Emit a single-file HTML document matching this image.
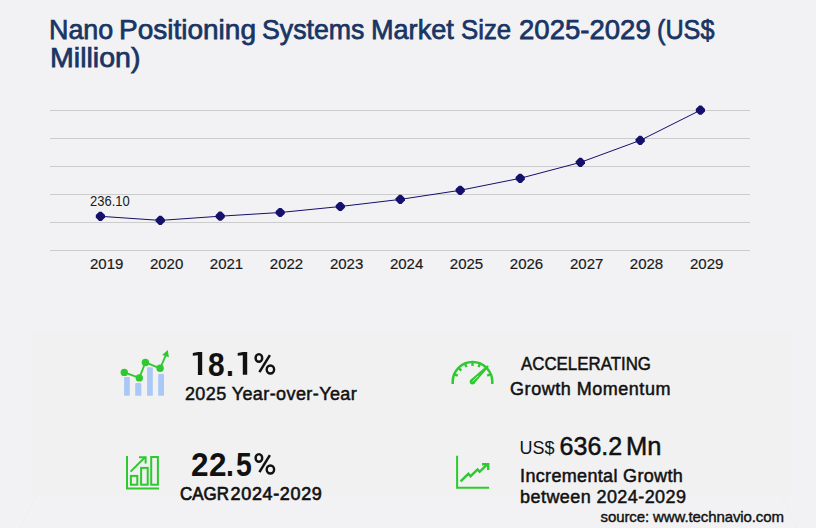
<!DOCTYPE html>
<html><head><meta charset="utf-8">
<style>
html,body{margin:0;padding:0;}
body{width:816px;height:528px;overflow:hidden;background:#f2f2f5;position:relative;font-family:"Liberation Sans",sans-serif;}
.a{position:absolute;white-space:nowrap;line-height:1;}
#panel{position:absolute;left:31px;top:330px;width:761px;height:166px;background:#f1f1f1;}
.t{font-size:28px;color:#193564;-webkit-text-stroke:0.75px #193564;transform-origin:0 0;}
.yr{font-size:15px;color:#1a1a1a;-webkit-text-stroke:0.2px #1a1a1a;width:60px;text-align:center;top:256px;}
.g{font-size:33px;font-weight:bold;color:#111;transform-origin:0 0;}
.lbl{font-size:18px;color:#111;-webkit-text-stroke:0.5px #111;transform-origin:0 0;}
</style></head><body>
<div id="panel"></div>
<svg width="816" height="528" style="position:absolute;left:0;top:0"><g stroke="#e2ebee" stroke-width="0.8" stroke-dasharray="1 1.2"><line x1="35.5" y1="496" x2="20" y2="528"/><line x1="782" y1="497" x2="797" y2="528"/></g></svg>

<div class="a t" style="left:49px;top:16px;transform:scaleX(0.96)">Nano</div>
<div class="a t" style="left:119px;top:16px">Positioning</div>
<div class="a t" style="left:262.1px;top:16px;transform:scaleX(0.954)">Systems</div>
<div class="a t" style="left:370.9px;top:16px;transform:scaleX(0.967)">Market</div>
<div class="a t" style="left:461.2px;top:16px;transform:scaleX(0.92)">Size</div>
<div class="a t" style="left:519px;top:16px;transform:scaleX(0.984)">2025-2029</div>
<div class="a t" style="left:657.1px;top:16px;transform:scaleX(0.90)">(US$</div>
<div class="a t" style="left:49.7px;top:44px;transform:scaleX(1.02)">Million)</div>

<svg width="816" height="528" style="position:absolute;left:0;top:0">
  <g stroke="#cccccc" stroke-width="1">
    <line x1="50" y1="110.5" x2="750" y2="110.5"/>
    <line x1="50" y1="138.5" x2="750" y2="138.5"/>
    <line x1="50" y1="166.5" x2="750" y2="166.5"/>
    <line x1="50" y1="194.5" x2="750" y2="194.5"/>
    <line x1="50" y1="222.5" x2="750" y2="222.5"/>
    <line x1="50" y1="250.5" x2="750" y2="250.5"/>
  </g>
  <polyline fill="none" stroke="#14106b" stroke-width="1" points="100.4,216.3 160.3,220.4 220.2,216.2 280.2,212.5 340.3,206.5 400.3,199.4 460.2,190.3 520.2,178.3 580.4,162.4 640.2,140.4 700.4,110.2"/>
  <g fill="#14106b">
    <path d="M99.20 211.70 L101.60 211.70 L105.00 215.10 L105.00 217.50 L101.60 220.90 L99.20 220.90 L95.80 217.50 L95.80 215.10z"/>
    <path d="M159.10 215.80 L161.50 215.80 L164.90 219.20 L164.90 221.60 L161.50 225.00 L159.10 225.00 L155.70 221.60 L155.70 219.20z"/>
    <path d="M219.00 211.60 L221.40 211.60 L224.80 215.00 L224.80 217.40 L221.40 220.80 L219.00 220.80 L215.60 217.40 L215.60 215.00z"/>
    <path d="M279.00 207.90 L281.40 207.90 L284.80 211.30 L284.80 213.70 L281.40 217.10 L279.00 217.10 L275.60 213.70 L275.60 211.30z"/>
    <path d="M339.10 201.90 L341.50 201.90 L344.90 205.30 L344.90 207.70 L341.50 211.10 L339.10 211.10 L335.70 207.70 L335.70 205.30z"/>
    <path d="M399.10 194.80 L401.50 194.80 L404.90 198.20 L404.90 200.60 L401.50 204.00 L399.10 204.00 L395.70 200.60 L395.70 198.20z"/>
    <path d="M459.00 185.70 L461.40 185.70 L464.80 189.10 L464.80 191.50 L461.40 194.90 L459.00 194.90 L455.60 191.50 L455.60 189.10z"/>
    <path d="M519.00 173.70 L521.40 173.70 L524.80 177.10 L524.80 179.50 L521.40 182.90 L519.00 182.90 L515.60 179.50 L515.60 177.10z"/>
    <path d="M579.20 157.80 L581.60 157.80 L585.00 161.20 L585.00 163.60 L581.60 167.00 L579.20 167.00 L575.80 163.60 L575.80 161.20z"/>
    <path d="M639.00 135.80 L641.40 135.80 L644.80 139.20 L644.80 141.60 L641.40 145.00 L639.00 145.00 L635.60 141.60 L635.60 139.20z"/>
    <path d="M699.20 105.60 L701.60 105.60 L705.00 109.00 L705.00 111.40 L701.60 114.80 L699.20 114.80 L695.80 111.40 L695.80 109.00z"/>
  </g>
  <!-- YoY icon -->
  <g fill="#a9c8f5">
    <path d="M124.1 395.8 V377.9 q0 -1 1 -1 h3.7 q1 0 1 1 V395.8z"/>
    <path d="M135.2 395.8 V384 q0 -1 1 -1 h4.1 q1 0 1 1 V395.8z"/>
    <path d="M147.1 395.8 V368.3 q0 -1 1 -1 h3.7 q1 0 1 1 V395.8z"/>
    <path d="M158.2 395.8 V375.1 q0 -1 1 -1 h3.8 q1 0 1 1 V395.8z"/>
  </g>
  <g stroke="#2ec92e" stroke-width="1.8" fill="none" stroke-linejoin="round">
    <polyline points="124.3,372.4 139.3,377.9 145.4,362.4 160.1,368.3 166.1,354.7"/>
  </g>
  <g fill="#2ec92e">
    <circle cx="124.3" cy="372.4" r="3.7"/>
    <circle cx="139.3" cy="377.9" r="3.7"/>
    <circle cx="145.4" cy="362.4" r="3.7"/>
    <circle cx="160.1" cy="368.3" r="3.7"/>
    <path d="M167.8 350.1 L162.2 355 L168.9 357.3z"/>
  </g>
  <!-- gauge icon -->
  <g stroke="#2ec92e" fill="none" stroke-width="2.5">
    <path d="M452.7 384 V381.8 A19.8 19.8 0 0 1 492.3 381.8 V384"/>
  </g>
  <g stroke="#2ec92e" stroke-width="2.4" stroke-linecap="butt">
    <line x1="454.76" y1="374.45" x2="457.81" y2="375.72"/>
    <line x1="458.92" y1="368.22" x2="461.26" y2="370.56"/>
    <line x1="465.15" y1="364.06" x2="466.42" y2="367.11"/>
    <line x1="472.50" y1="362.60" x2="472.50" y2="365.90"/>
    <line x1="479.85" y1="364.06" x2="478.58" y2="367.11"/>
    <line x1="490.24" y1="374.45" x2="487.19" y2="375.72"/>
  </g>
  <g fill="#2ec92e">
    <circle cx="472.4" cy="381.7" r="2.7"/>
    <polygon points="474.31,383.61 488.88,366.78 487.32,365.22 470.49,379.79"/>
  </g>
  <line x1="472.97" y1="381.13" x2="478.06" y2="376.04" stroke="#f1f1f1" stroke-width="0.9" stroke-linecap="round"/>
  <!-- CAGR icon -->
  <g stroke="#2ec92e" fill="none" stroke-width="2">
    <path d="M127 456 V488.6 H159"/>
    <rect x="130.9" y="475.9" width="6.4" height="8.8"/>
    <rect x="141.1" y="467.9" width="6.6" height="16.8"/>
    <rect x="151.2" y="457" width="6.7" height="27.7"/>
    <path d="M130.6 471.6 L145 457.2"/>
    <path d="M139 457.2 H145.6 V463.6" stroke-linejoin="miter"/>
  </g>
  <!-- incremental icon -->
  <g stroke="#2ec92e" fill="none" stroke-width="2">
    <path d="M457.1 455.8 V487.8 H489.1"/>
  </g>
  <g stroke="#2ec92e" fill="none" stroke-width="2.4" stroke-linejoin="miter">
    <polyline points="460.6,481.4 468.4,473.8 470.6,476.2 477.6,469.4 479.6,471.8 487.2,464.4"/>
    <path d="M482 464.2 H488.2 V470"/>
  </g>
</svg>

<div class="a" style="left:89.7px;top:194px;font-size:14px;color:#1a1a1a;transform-origin:0 0;transform:scaleX(0.927)">236.10</div>
<div class="a yr" style="left:76.7px">2019</div>
<div class="a yr" style="left:136.6px">2020</div>
<div class="a yr" style="left:196.5px">2021</div>
<div class="a yr" style="left:256.5px">2022</div>
<div class="a yr" style="left:316.6px">2023</div>
<div class="a yr" style="left:376.6px">2024</div>
<div class="a yr" style="left:436.5px">2025</div>
<div class="a yr" style="left:496.5px">2026</div>
<div class="a yr" style="left:556.7px">2027</div>
<div class="a yr" style="left:616.5px">2028</div>
<div class="a yr" style="left:676.7px">2029</div>

<div class="a g" style="left:208.4px;top:347.5px;transform:scaleX(0.906)">8</div>
<div class="a g" style="left:226.3px;top:347.5px;transform:scaleX(0.86)">.</div>
<svg width="816" height="528" style="position:absolute;left:0;top:0"><g fill="#111"><path d="M192.8 353.1 L198 352.1 L202.2 352.1 L202.2 375 L197.9 375 L197.9 355.2 L192.8 355.8 Z"/><path d="M237.7 353.1 L242.9 351.9 L247.2 351.9 L247.2 374.8 L242.8 374.8 L242.8 355.2 L237.7 355.8 Z"/></g></svg>
<div class="a lbl" style="left:184.9px;top:384.8px;letter-spacing:0.41px">2025 Year-over-Year</div>

<div class="a lbl" style="left:520.5px;top:355px;transform:scaleX(0.937)">ACCELERATING</div>
<div class="a lbl" style="left:510.1px;top:379.8px;letter-spacing:0.52px">Growth Momentum</div>

<div class="a g" style="left:190.7px;top:447.9px;transform:scaleX(0.956)">2</div>
<div class="a g" style="left:208.6px;top:447.9px;transform:scaleX(0.956)">2</div>
<div class="a g" style="left:226.3px;top:447.9px;transform:scaleX(0.86)">.</div>
<div class="a g" style="left:236.1px;top:447.9px;transform:scaleX(0.86)">5</div>
<div class="a lbl" style="left:179.6px;top:485px;transform:scaleX(0.94);-webkit-text-stroke:0.7px #111">CAGR</div>
<div class="a lbl" style="left:230.6px;top:485px;letter-spacing:0.64px;-webkit-text-stroke:0.65px #111">2024-2029</div>

<div class="a" style="left:519.5px;top:439.2px;font-size:18px;color:#111">US$</div>
<div class="a" style="left:559.6px;top:434.1px;font-size:25px;color:#111;-webkit-text-stroke:0.5px #111">636.2</div>
<div class="a" style="left:625.5px;top:434.1px;font-size:25px;color:#111;-webkit-text-stroke:0.5px #111;transform-origin:0 0;transform:scaleX(1.02)">Mn</div>
<div class="a lbl" style="left:520.1px;top:467.1px;letter-spacing:0.33px">Incremental Growth</div>
<div class="a lbl" style="left:520.1px;top:488px;letter-spacing:0.42px">between 2024-2029</div>

<div class="a" style="left:600.5px;top:509px;font-size:15px;color:#111;-webkit-text-stroke:0.4px #111;letter-spacing:-0.1px">source: www.technavio.com</div>

<svg width="816" height="528" style="position:absolute;left:0;top:0"><g fill="none" stroke="#111" stroke-width="2.4">
<ellipse cx="258.9" cy="357.95" rx="3.3" ry="3.85"/><ellipse cx="270.4" cy="369.5" rx="3.7" ry="4.0"/>
<ellipse cx="258.9" cy="457.95" rx="3.3" ry="3.85"/><ellipse cx="270.4" cy="469.5" rx="3.7" ry="4.0"/></g>
<g stroke="#111" stroke-width="2.5"><line x1="259.4" y1="372.2" x2="269.9" y2="355.2"/><line x1="259.4" y1="472.2" x2="269.9" y2="455.2"/></g></svg>
</body></html>
